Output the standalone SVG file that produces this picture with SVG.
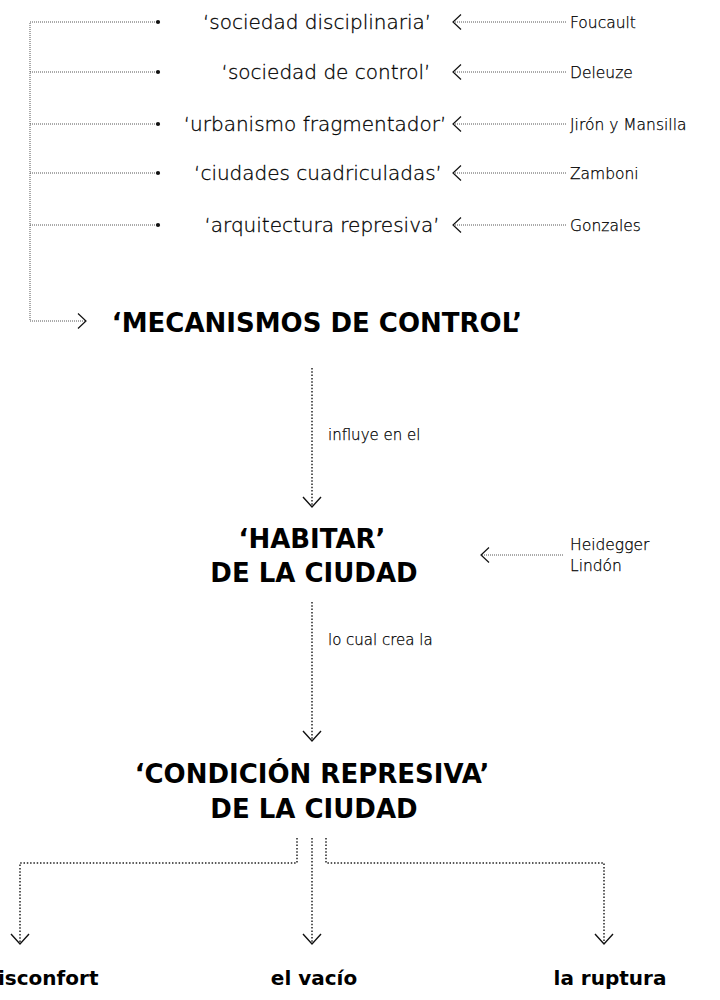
<svg xmlns="http://www.w3.org/2000/svg" width="720" height="1000" viewBox="0 0 720 1000">
<style>
  .item { font-family: "DejaVu Sans", "Liberation Sans", sans-serif; font-size: 20px; font-weight: 300; fill: #000; stroke: #000; stroke-width: 0.3; text-anchor: middle; }
  .auth { font-family: "DejaVu Sans", "Liberation Sans", sans-serif; font-size: 15.5px; font-weight: 300; fill: #000; stroke: #000; stroke-width: 0.25; }
  .lbl { font-family: "DejaVu Sans", "Liberation Sans", sans-serif; font-size: 15px; font-weight: 300; fill: #000; stroke: #000; stroke-width: 0.25; }
  .head { font-family: "DejaVu Sans", "Liberation Sans", sans-serif; font-size: 26px; font-weight: bold; fill: #000; text-anchor: middle; }
  .out { font-family: "DejaVu Sans", "Liberation Sans", sans-serif; font-size: 20px; font-weight: bold; fill: #000; text-anchor: middle; }
  .thin { fill: none; stroke: #555; stroke-width: 1; stroke-dasharray: 1 1; }
  .main { fill: none; stroke: #222; stroke-width: 1.5; stroke-dasharray: 1.5 1.8; }
</style>
<defs>
  <marker id="chevD" markerUnits="userSpaceOnUse" viewBox="-12 -11 14 22" markerWidth="14" markerHeight="22" refX="0" refY="0" orient="auto" overflow="visible">
    <path d="M -10 -9 L 0 0 L -10 9" fill="none" stroke="#111" stroke-width="1.4"/>
  </marker>
  <marker id="chevS" markerUnits="userSpaceOnUse" viewBox="-12 -10 14 20" markerWidth="14" markerHeight="20" refX="0" refY="0" orient="auto" overflow="visible">
    <path d="M -8 -7.5 L 0 0 L -8 7.5" fill="none" stroke="#111" stroke-width="1.2"/>
  </marker>
</defs>

<g id="connectors">
  <polyline class="thin" points="157,22 30,22 30,321 86,321" marker-end="url(#chevS)"/>
  <line class="thin" x1="30" y1="72" x2="157" y2="72"/>
  <line class="thin" x1="30" y1="124" x2="157" y2="124"/>
  <line class="thin" x1="30" y1="173" x2="157" y2="173"/>
  <line class="thin" x1="30" y1="225" x2="157" y2="225"/>
  <circle cx="158" cy="22" r="2.1" fill="#111"/>
  <circle cx="158" cy="72" r="2.1" fill="#111"/>
  <circle cx="158" cy="124" r="2.1" fill="#111"/>
  <circle cx="158" cy="173" r="2.1" fill="#111"/>
  <circle cx="158" cy="225" r="2.1" fill="#111"/>
  <line class="thin" x1="566" y1="22" x2="453" y2="22" marker-end="url(#chevS)"/>
  <line class="thin" x1="566" y1="72" x2="453" y2="72" marker-end="url(#chevS)"/>
  <line class="thin" x1="566" y1="124" x2="453" y2="124" marker-end="url(#chevS)"/>
  <line class="thin" x1="566" y1="173" x2="453" y2="173" marker-end="url(#chevS)"/>
  <line class="thin" x1="566" y1="225" x2="453" y2="225" marker-end="url(#chevS)"/>
  <line class="thin" x1="563" y1="555" x2="481" y2="555" marker-end="url(#chevS)"/>
  <line class="main" x1="312" y1="368" x2="312" y2="507" marker-end="url(#chevD)"/>
  <line class="main" x1="312" y1="602" x2="312" y2="741" marker-end="url(#chevD)"/>
  <polyline class="main" points="297,838 297,863 20,863 20,944" marker-end="url(#chevD)"/>
  <line class="main" x1="312" y1="838" x2="312" y2="944" marker-end="url(#chevD)"/>
  <polyline class="main" points="326,838 326,863 604,863 604,944" marker-end="url(#chevD)"/>
</g>

<g id="n-disciplinaria"><text class="item" x="317" y="29">‘sociedad disciplinaria’</text></g>
<g id="n-control"><text class="item" x="326" y="79">‘sociedad de control’</text></g>
<g id="n-urbanismo"><text class="item" x="315" y="131">‘urbanismo fragmentador’</text></g>
<g id="n-ciudades"><text class="item" x="318" y="180">‘ciudades cuadriculadas’</text></g>
<g id="n-arquitectura"><text class="item" x="322" y="232">‘arquitectura represiva’</text></g>

<g id="a-foucault"><text class="auth" x="570" y="28">Foucault</text></g>
<g id="a-deleuze"><text class="auth" x="570" y="78">Deleuze</text></g>
<g id="a-jiron"><text class="auth" x="570" y="130">Jirón y Mansilla</text></g>
<g id="a-zamboni"><text class="auth" x="570" y="179">Zamboni</text></g>
<g id="a-gonzales"><text class="auth" x="570" y="231">Gonzales</text></g>

<g id="n-mecanismos"><text class="head" x="317" y="332">‘MECANISMOS DE CONTROL’</text></g>
<g id="l-influye"><text class="lbl" x="328" y="440">influye en el</text></g>
<g id="n-habitar">
  <text class="head" x="312" y="548">‘HABITAR’</text>
  <text class="head" x="314" y="582">DE LA CIUDAD</text>
</g>
<g id="a-heidegger">
  <text class="auth" x="570" y="550">Heidegger</text>
  <text class="auth" x="570" y="571">Lindón</text>
</g>
<g id="l-crea"><text class="lbl" x="328" y="645">lo cual crea la</text></g>
<g id="n-condicion">
  <text class="head" x="312" y="783">‘CONDICIÓN REPRESIVA’</text>
  <text class="head" x="314" y="818">DE LA CIUDAD</text>
</g>
<g id="n-disconfort"><text class="out" x="-2" y="985" style="text-anchor:start">isconfort</text></g>
<g id="n-vacio"><text class="out" x="314" y="985">el vacío</text></g>
<g id="n-ruptura"><text class="out" x="610" y="985">la ruptura</text></g>
</svg>
